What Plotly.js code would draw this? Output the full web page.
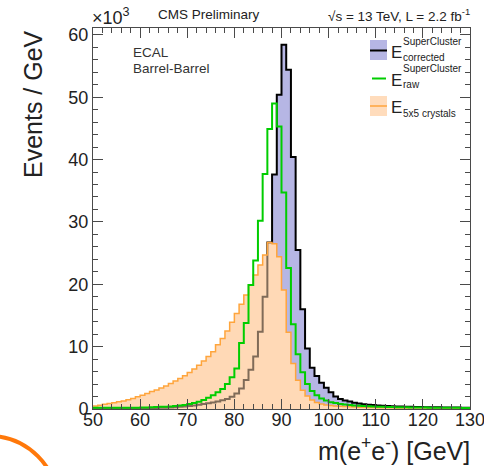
<!DOCTYPE html>
<html>
<head>
<meta charset="utf-8">
<script src="https://cdn.plot.ly/plotly-3.0.1.min.js"></script>
<style>
html,body{margin:0;padding:0;background:#ffffff;}
#chart{width:484px;height:466px;}
</style>
</head>
<body>
<div id="chart"></div>
<script>
// ---- data (events per GeV, in units of 10^3), 1 GeV bins from 50 to 130 GeV ----
const binLowEdge = 50;
const binWidth = 1;

const correctedCounts = [
  0.05,0.05,0.05,0.05,0.06,0.06,0.07,0.08,0.09,0.10,
  0.11,0.12,0.14,0.16,0.19,0.22,0.26,0.30,0.36,0.42,
  0.50,0.58,0.68,0.80,0.92,1.05,1.20,1.40,1.60,1.95,
  2.5,3.3,4.65,6.3,8.4,12.4,18.0,26.7,37.6,50.4,
  58.4,54.4,40.4,25.5,16.0,9.7,6.6,5.3,4.2,3.4,
  2.7,2.0,1.6,1.35,1.2,1.0,0.88,0.78,0.70,0.63,
  0.57,0.52,0.48,0.45,0.42,0.40,0.38,0.36,0.34,0.32,
  0.30,0.29,0.28,0.27,0.26,0.25,0.24,0.23,0.22,0.21
];

const rawCounts = [
  0.20,0.20,0.20,0.20,0.20,0.20,0.20,0.20,0.22,0.22,
  0.24,0.26,0.30,0.32,0.35,0.38,0.42,0.48,0.55,0.65,
  0.80,0.95,1.15,1.45,1.8,2.2,2.7,3.2,4.0,5.1,
  6.5,10.6,13.8,19.9,23.8,30.2,37.7,44.9,49.0,45.3,
  34.7,22.6,13.6,8.8,5.9,4.0,2.9,2.2,1.7,1.35,
  1.1,0.95,0.82,0.72,0.64,0.57,0.52,0.47,0.43,0.40,
  0.37,0.35,0.33,0.31,0.29,0.28,0.27,0.26,0.25,0.24,
  0.23,0.22,0.22,0.21,0.20,0.20,0.19,0.19,0.18,0.18
];

const crystal5x5Counts = [
  0.50,0.62,0.75,0.88,1.0,1.15,1.3,1.5,1.7,1.95,
  2.2,2.5,2.8,3.05,3.35,3.7,4.1,4.5,4.9,5.35,
  5.85,6.4,7.0,7.7,8.4,9.2,10.3,11.3,12.5,13.9,
  15.3,16.8,18.3,19.9,21.5,23.1,24.7,26.7,26.5,24.4,
  19.1,12.3,7.3,4.6,3.0,2.1,1.45,1.05,0.82,0.66,
  0.56,0.48,0.43,0.39,0.35,0.32,0.30,0.28,0.26,0.24,
  0.22,0.21,0.20,0.19,0.18,0.17,0.17,0.16,0.16,0.15,
  0.15,0.14,0.14,0.14,0.13,0.13,0.13,0.12,0.12,0.12
];

const seriesNames = ['E SuperCluster corrected', 'E SuperCluster raw', 'E 5x5 crystals'];
const xTickValues = [50,60,70,80,90,100,110,120,130];
const yTickValues = [0,10,20,30,40,50,60];

// ---- build step-histogram outlines from bins ----
function stepX(counts){ const e=[]; for(let i=0;i<=counts.length;i++) e.push(binLowEdge+i*binWidth); return e; }
function stepY(counts){ return counts.concat([counts[counts.length-1]]); }

const LAV = 'rgb(182,182,228)';
const PEACH = 'rgb(255,220,188)';
const ORANGE = 'rgb(255,165,60)';
const GREEN = 'rgb(0,205,0)';

const traces = [
  // corrected: fill
  { x: stepX(correctedCounts), y: stepY(correctedCounts), name: seriesNames[0],
    type:'scatter', mode:'lines', line:{shape:'hv', width:0, color:LAV},
    fill:'tozeroy', fillcolor:LAV, hoverinfo:'skip' },
  // 5x5: opaque base fill
  { x: stepX(crystal5x5Counts), y: stepY(crystal5x5Counts), name: seriesNames[2],
    type:'scatter', mode:'lines', line:{shape:'hv', width:0, color:PEACH},
    fill:'tozeroy', fillcolor:PEACH, hoverinfo:'skip' },
  // corrected: outline
  { x: stepX(correctedCounts), y: stepY(correctedCounts), name: seriesNames[0],
    type:'scatter', mode:'lines', line:{shape:'hv', color:'#000000', width:2}, hoverinfo:'skip' },
  // 5x5: translucent tint + outline
  { x: stepX(crystal5x5Counts), y: stepY(crystal5x5Counts), name: seriesNames[2],
    type:'scatter', mode:'lines', line:{shape:'hv', color:ORANGE, width:1.5},
    fill:'tozeroy', fillcolor:'rgba(255,214,176,0.5)', hoverinfo:'skip' },
  // raw: outline only
  { x: stepX(rawCounts), y: stepY(rawCounts), name: seriesNames[1],
    type:'scatter', mode:'lines', line:{shape:'hv', color:GREEN, width:2}, hoverinfo:'skip' }
];

// ---- layout helpers (pixel -> paper) ----
const M = {l:93, r:14, t:28, b:57};
const W = 484, H = 466;
const pw = W - M.l - M.r, ph = H - M.t - M.b;
const px = v => (v - M.l) / pw;
const py = v => (H - M.b - v) / ph;

const FONT = 'Liberation Sans, Arial, Helvetica, sans-serif';
const TXT = '#222222';
const AX = '#4a4a4a';

function ann(text, x, y, size, xanchor, yanchor, extra){
  return Object.assign({text:text, x:px(x), y:py(y), xref:'paper', yref:'paper',
    xanchor:xanchor, yanchor:yanchor, showarrow:false, borderpad:0,
    font:{family:FONT, size:size, color:TXT}}, extra||{});
}

const annotations = [
  ann('×10<sup>3</sup>', 91, 17, 18, 'left', 'middle'),
  ann('CMS Preliminary', 209, 15, 13.5, 'center', 'middle'),
  ann('<span>√</span>s = 13 TeV, L = 2.2 fb<sup>-1</sup>', 471, 15, 13.5, 'right', 'middle'),
  ann('ECAL', 132, 53, 13.5, 'left', 'middle', {font:{family:FONT,size:13.5,color:'#333'}}),
  ann('Barrel-Barrel', 132, 68, 13.5, 'left', 'middle', {font:{family:FONT,size:13.5,color:'#333'}}),
  // legend text
  ann('E', 390, 52, 17, 'left', 'middle'),
  ann('SuperCluster', 402, 41, 10, 'left', 'middle'),
  ann('corrected', 402, 57, 10, 'left', 'middle'),
  ann('E', 390, 80, 17, 'left', 'middle'),
  ann('SuperCluster', 402, 68, 10, 'left', 'middle'),
  ann('raw', 402, 84, 10, 'left', 'middle'),
  ann('E', 390, 107, 17, 'left', 'middle'),
  ann('5x5 crystals', 402, 113, 10, 'left', 'middle'),
  // axis titles (ROOT style, aligned to axis ends)
  ann('m(e<sup>+</sup>e<sup>-</sup>) [GeV]', 471, 449, 25, 'right', 'middle'),
  ann('Events / GeV', 33, 29, 25, 'center', 'top', {textangle:-90})
];

const shapes = [
  // legend swatches
  {type:'rect', xref:'paper', yref:'paper', x0:px(370), x1:px(387), y0:py(60), y1:py(40),
   fillcolor:LAV, line:{width:0}},
  {type:'line', xref:'paper', yref:'paper', x0:px(370), x1:px(387), y0:py(50.5), y1:py(50.5),
   line:{color:'#000', width:2}},
  {type:'line', xref:'paper', yref:'paper', x0:px(372), x1:px(386), y0:py(78.5), y1:py(78.5),
   line:{color:GREEN, width:2}},
  {type:'rect', xref:'paper', yref:'paper', x0:px(370), x1:px(387), y0:py(116), y1:py(96),
   fillcolor:PEACH, line:{width:0}},
  {type:'line', xref:'paper', yref:'paper', x0:px(370), x1:px(387), y0:py(106), y1:py(106),
   line:{color:ORANGE, width:1.5}},
  // orange highlight arc in the lower-left corner of the slide
  {type:'circle', xref:'paper', yref:'paper', x0:px(-80), x1:px(58), y0:py(574), y1:py(436),
   line:{color:'rgb(255,120,10)', width:4}, fillcolor:'rgba(0,0,0,0)'}
];

const axisCommon = {
  ticks:'inside', ticklen:10, tickwidth:1, tickcolor:AX,
  showline:true, linecolor:AX, linewidth:1, mirror:'ticks',
  showgrid:false, zeroline:false,
  tickfont:{family:FONT, size:18, color:TXT},
  minor:{ticks:'inside', ticklen:5, tickwidth:1, tickcolor:AX, showgrid:false}
};

const layout = {
  width:W, height:H, margin:M,
  paper_bgcolor:'#ffffff', plot_bgcolor:'#ffffff',
  font:{family:FONT, color:TXT},
  showlegend:false,
  xaxis:Object.assign({}, axisCommon, {range:[50,130], tickmode:'array', tickvals:xTickValues,
    ticktext:xTickValues.map(String), ticklabeloverflow:'allow', ticklabelstandoff:-6,
    minor:Object.assign({}, axisCommon.minor, {dtick:2, tick0:50})}),
  yaxis:Object.assign({}, axisCommon, {range:[0,61.1], tickmode:'array', tickvals:yTickValues,
    ticktext:yTickValues.map(String), minor:Object.assign({}, axisCommon.minor, {dtick:2, tick0:0})}),
  shapes:shapes,
  annotations:annotations
};

Plotly.newPlot('chart', traces, layout, {staticPlot:true, displayModeBar:false});
</script>
</body>
</html>
